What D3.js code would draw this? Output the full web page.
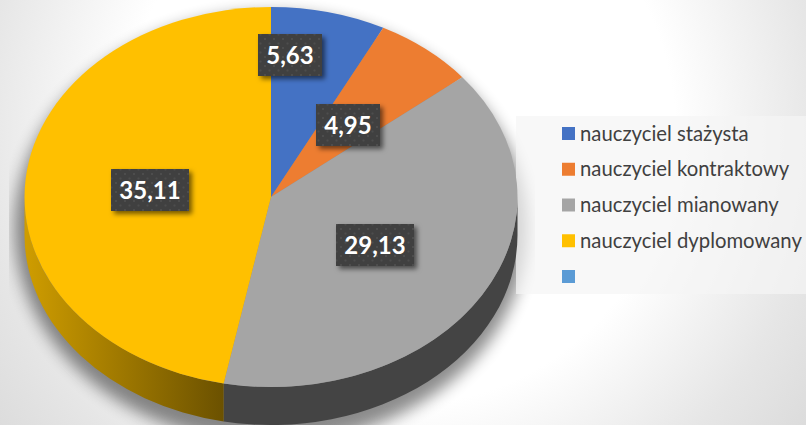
<!DOCTYPE html>
<html>
<head>
<meta charset="utf-8">
<script src="https://cdn.jsdelivr.net/npm/d3@7"></script>
<style>
  html, body { margin: 0; padding: 0; background: #fff; }
  svg { display: block; }
</style>
</head>
<body>
<div id="chart"></div>
<script>
var categories = ["nauczyciel stażysta", "nauczyciel kontraktowy", "nauczyciel mianowany", "nauczyciel dyplomowany", ""];
var values = [5.63, 4.95, 29.13, 35.11, 0];
var valueLabels = ["5,63", "4,95", "29,13", "35,11"];
var colors = ["#4472c4", "#ed7d31", "#a5a5a5", "#ffc000", "#5b9bd5"];

var width = 806, height = 425;
var cx = 271, cy = 197, rx = 246.5, ry = 190, depth = 38;
// labels were dragged by hand in the original, so offsets from the pie centre
var labelOffsets = [[19, -142], [77, -72], [104, 48], [-121, -7]];

var svg = d3.select("#chart").append("svg")
  .attr("width", width)
  .attr("height", height);

var defs = svg.append("defs");

// slide background, white in the middle and grey towards the corners
var bg = defs.append("radialGradient").attr("id", "bgGrad")
  .attr("gradientUnits", "userSpaceOnUse")
  .attr("cx", 400).attr("cy", 130).attr("r", 500);
bg.append("stop").attr("offset", "55%").attr("stop-color", "#ffffff");
bg.append("stop").attr("offset", "84%").attr("stop-color", "#e6e6e6");
bg.append("stop").attr("offset", "100%").attr("stop-color", "#dcdcdc");

var sideGrad = defs.append("linearGradient").attr("id", "sideGrad")
  .attr("gradientUnits", "userSpaceOnUse")
  .attr("x1", cx - rx).attr("y1", 0).attr("x2", cx - 47).attr("y2", 0);
sideGrad.append("stop").attr("offset", "0%").attr("stop-color", "#cf9d00");
sideGrad.append("stop").attr("offset", "100%").attr("stop-color", "#6b5100");

var dots = defs.append("pattern").attr("id", "dots")
  .attr("patternUnits", "userSpaceOnUse")
  .attr("width", 9).attr("height", 9);
dots.append("rect").attr("width", 9).attr("height", 9).attr("fill", "#3f3f3f");
dots.append("rect").attr("x", 1).attr("y", 1).attr("width", 2).attr("height", 2).attr("fill", "#4e4e4e");
dots.append("rect").attr("x", 5.5).attr("y", 5.5).attr("width", 2).attr("height", 2).attr("fill", "#4e4e4e");

var shadow = defs.append("filter").attr("id", "pieShadow")
  .attr("x", "-10%").attr("y", "-10%").attr("width", "120%").attr("height", "120%");
shadow.append("feGaussianBlur").attr("stdDeviation", 8);

// the shadow stops dead at the chart frame on both sides
defs.append("clipPath").attr("id", "shadowClip")
  .append("rect").attr("x", 9).attr("y", 0).attr("width", 526).attr("height", height);

var labelShadow = defs.append("filter").attr("id", "labelShadow")
  .attr("x", "-20%").attr("y", "-20%").attr("width", "150%").attr("height", "150%");
labelShadow.append("feDropShadow")
  .attr("dx", 3).attr("dy", 3).attr("stdDeviation", 2.5)
  .attr("flood-color", "#000").attr("flood-opacity", 0.55);

svg.append("rect").attr("width", width).attr("height", height).attr("fill", "url(#bgGrad)");

var pie = d3.pie().sort(null).value(function (d) { return d; });
var slices = pie(values);

var arc = d3.arc().innerRadius(0).outerRadius(rx);

function px(a) { return cx + rx * Math.sin(a); }
function py(a) { return cy - ry * Math.cos(a); }

// side wall of a slice, only the front half of the ellipse is visible
function sidePath(d) {
  var a0 = Math.max(d.startAngle, Math.PI / 2);
  var a1 = Math.min(d.endAngle, Math.PI * 1.5);
  if (a1 <= a0) return null;
  return "M" + px(a0) + "," + py(a0) +
    "A" + rx + "," + ry + " 0 0 1 " + px(a1) + "," + py(a1) +
    "L" + px(a1) + "," + (py(a1) + depth) +
    "A" + rx + "," + ry + " 0 0 0 " + px(a0) + "," + (py(a0) + depth) + "Z";
}

// soft shadow under the whole disc
svg.append("g").attr("clip-path", "url(#shadowClip)")
  .append("ellipse")
  .attr("cx", cx).attr("cy", cy + depth / 2 + 12)
  .attr("rx", rx + 10).attr("ry", ry + depth / 2 + 6)
  .attr("fill", "#000").attr("opacity", 0.45)
  .attr("filter", "url(#pieShadow)");

// legend panel is see-through, the shadow still shows under its left end
svg.append("rect")
  .attr("x", 516).attr("y", 116).attr("width", 290).attr("height", 178)
  .attr("fill", "#f5f5f5").attr("fill-opacity", 0.7);

svg.selectAll(".side")
  .data(slices.filter(function (d) { return sidePath(d) !== null; }))
  .enter().append("path")
  .attr("class", "side")
  .attr("d", sidePath)
  .attr("fill", function (d) { return d.index === 3 ? "url(#sideGrad)" : "#444444"; });

svg.append("g")
  .attr("transform", "translate(" + cx + "," + cy + ") scale(1," + (ry / rx) + ")")
  .selectAll(".slice")
  .data(slices)
  .enter().append("path")
  .attr("class", "slice")
  .attr("d", arc)
  .attr("fill", function (d, i) { return colors[i]; });

var labels = svg.selectAll(".label")
  .data(valueLabels)
  .enter().append("g")
  .attr("class", "label")
  .attr("transform", function (d, i) {
    return "translate(" + (cx + labelOffsets[i][0]) + "," + (cy + labelOffsets[i][1]) + ")";
  });

labels.append("rect")
  .attr("x", function (d) { return d.length > 4 ? -39 : -32; })
  .attr("y", -21)
  .attr("width", function (d) { return d.length > 4 ? 78 : 64; })
  .attr("height", 42)
  .attr("fill", "url(#dots)")
  .attr("filter", "url(#labelShadow)");

labels.append("text")
  .attr("text-anchor", "middle")
  .attr("y", 8.5)
  .attr("font-family", "Lato")
  .attr("font-weight", 700)
  .attr("font-size", 24)
  .attr("fill", "#fff")
  .text(function (d) { return d; });

var legendY = d3.scalePoint()
  .domain(d3.range(categories.length))
  .range([133.5, 276.5]);

var legend = svg.selectAll(".legend")
  .data(categories)
  .enter().append("g")
  .attr("class", "legend")
  .attr("transform", function (d, i) { return "translate(562," + legendY(i) + ")"; });

legend.append("rect")
  .attr("y", -6.5)
  .attr("width", 13)
  .attr("height", 13)
  .attr("fill", function (d, i) { return colors[i]; });

legend.append("text")
  .attr("x", 18)
  .attr("y", 7)
  .attr("font-family", "Lato")
  .attr("font-size", 20.3)
  .attr("fill", "#404040")
  .text(function (d) { return d; });
</script>
</body>
</html>
